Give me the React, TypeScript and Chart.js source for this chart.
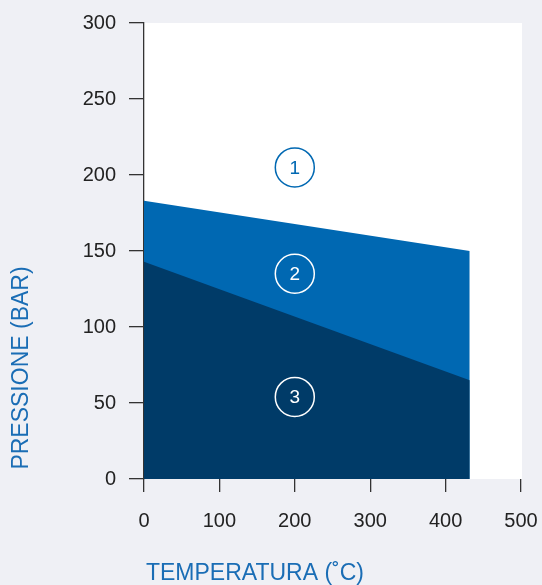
import React, { useEffect, useRef } from "react";
import { Chart, registerables } from "chart.js";

Chart.register(...registerables);

const xTicks = [0, 100, 200, 300, 400, 500];
const yTicks = [0, 50, 100, 150, 200, 250, 300];
const zone3Line = [
  { x: 0, y: 143 },
  { x: 432, y: 65 },
];
const zone2Line = [
  { x: 0, y: 183 },
  { x: 432, y: 150 },
];
const markerPoints = [
  { x: 200, y: 205 },
  { x: 200, y: 135 },
  { x: 200, y: 54 },
];
const markerLabels = ["1", "2", "3"];
const xTitle = "TEMPERATURA (˚C)";
const yTitle = "PRESSIONE (BAR)";

const BG = "#eff0f5";
const NAVY = "#003b68";
const BLUE = "#0068b2";
const TITLE_BLUE = "#1a6db5";
const FONT = "'Liberation Sans', Arial, Helvetica, sans-serif";

export default function App() {
  const ref = useRef<HTMLCanvasElement | null>(null);
  useEffect(() => {
    document.body.style.margin = "0";
    const canvas = ref.current!;
    const bgPlugin = {
      id: "bgPlugin",
      beforeDraw(chart: any) {
        const { ctx, chartArea } = chart;
        ctx.save();
        ctx.fillStyle = BG;
        ctx.fillRect(0, 0, chart.width, chart.height);
        ctx.fillStyle = "#ffffff";
        ctx.fillRect(chartArea.left, chartArea.top, chartArea.right - chartArea.left + 1, chartArea.bottom - chartArea.top);
        ctx.restore();
      },
      afterDraw(chart: any) {
        const { ctx } = chart;
        const meta = chart.getDatasetMeta(2);
        ctx.save();
        ctx.font = `19px ${FONT}`;
        ctx.textAlign = "center";
        ctx.textBaseline = "middle";
        meta.data.forEach((p: any, i: number) => {
          ctx.fillStyle = i === 0 ? BLUE : "#ffffff";
          ctx.fillText(markerLabels[i], p.x, p.y + 1);
        });
        ctx.fillStyle = TITLE_BLUE;
        ctx.font = `23px ${FONT}`;
        ctx.fillText(xTitle, 255, 574);
        ctx.translate(22, 368);
        ctx.rotate(-Math.PI / 2);
        ctx.fillText(yTitle, 0, 0);
        ctx.restore();
      },
    };
    const chart = new Chart(canvas, {
      type: "line",
      data: {
        datasets: [
          {
            data: zone3Line,
            borderWidth: 0,
            borderColor: NAVY,
            backgroundColor: NAVY,
            pointRadius: 0,
            fill: "origin",
            order: 1,
          },
          {
            data: zone2Line,
            borderWidth: 0,
            borderColor: BLUE,
            backgroundColor: BLUE,
            pointRadius: 0,
            fill: "origin",
            order: 2,
          },
          {
            data: markerPoints,
            showLine: false,
            pointRadius: 19.5,
            pointBorderWidth: 1.5,
            pointBackgroundColor: "rgba(0,0,0,0)",
            pointBorderColor: [BLUE, "#ffffff", "#ffffff"],
            fill: false,
            order: 0,
          },
        ],
      } as any,
      options: {
        animation: false,
        responsive: false,
        devicePixelRatio: 1,
        layout: { padding: { left: 0, right: 20, top: 23, bottom: 0 } },
        plugins: { legend: { display: false }, tooltip: { enabled: false } },
        scales: {
          x: {
            type: "linear",
            min: 0,
            max: 500,
            afterFit(scale: any) {
              scale.height = 106;
              scale.paddingLeft = 0;
              scale.paddingRight = 0;
            },
            afterBuildTicks(scale: any) {
              scale.ticks = xTicks.map((v) => ({ value: v }));
            },
            border: { display: false },
            grid: { drawOnChartArea: false, drawTicks: true, tickLength: 13, color: "#333", lineWidth: 1.3 },
            ticks: { color: "#222", font: { family: FONT, size: 20 }, padding: 17, maxRotation: 0 },
          },
          y: {
            type: "linear",
            min: 0,
            max: 300,
            afterFit(scale: any) {
              scale.width = 144;
              scale.paddingTop = 0;
              scale.paddingBottom = 0;
            },
            afterBuildTicks(scale: any) {
              scale.ticks = yTicks.map((v) => ({ value: v }));
            },
            border: { display: true, color: "#333", width: 1.3 },
            grid: { drawOnChartArea: false, drawTicks: true, tickLength: 15, color: "#333", lineWidth: 1.3 },
            ticks: { color: "#222", font: { family: FONT, size: 20 }, padding: 13 },
          },
        },
      } as any,
      plugins: [bgPlugin],
    });
    return () => chart.destroy();
  }, []);
  return (
    <div style={{ width: 542, height: 585, background: BG }}>
      <canvas ref={ref} width={542} height={585} style={{ display: "block", width: 542, height: 585 }} />
    </div>
  );
}
